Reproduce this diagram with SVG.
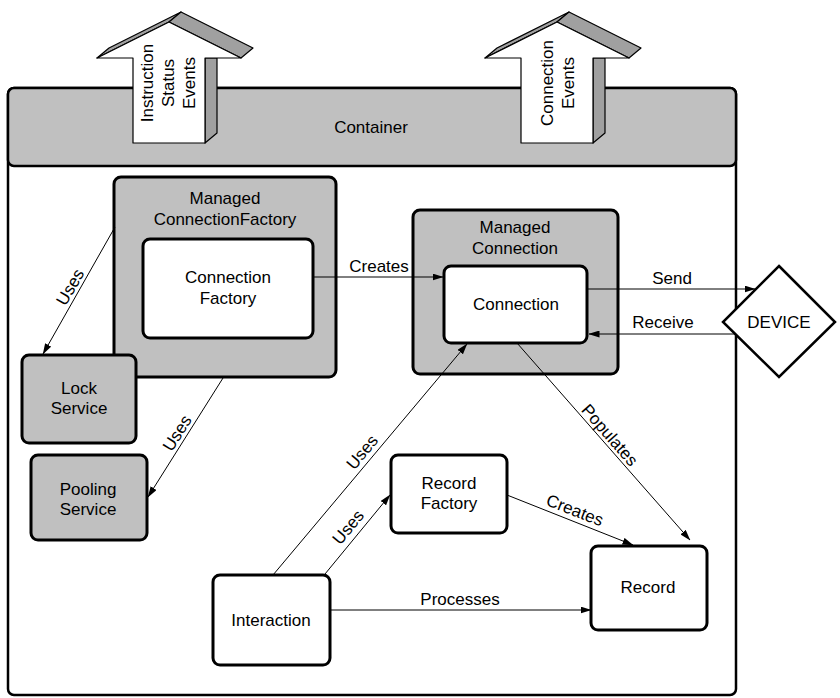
<svg xmlns="http://www.w3.org/2000/svg" width="840" height="698" viewBox="0 0 840 698">
  <style>
    text { font-family: "Liberation Sans", Arial, sans-serif; font-size: 17px; fill: #000; }
    .c { text-anchor: middle; }
    .box { stroke: #000; stroke-width: 3; }
    .gray { fill: #c0c0c0; }
    .white { fill: #fff; }
    .edge { fill: none; stroke: #000; stroke-width: 1; }
    .face { fill: #fff; stroke: #000; stroke-width: 1.2; stroke-linejoin: round; }
    .side { fill: #a0a0a0; stroke: #000; stroke-width: 1.2; stroke-linejoin: round; }
  </style>
  <defs>
    <marker id="arrow" markerWidth="11" markerHeight="7" refX="10.5" refY="3.5" orient="auto" markerUnits="userSpaceOnUse">
      <path d="M0,0 L11,3.5 L0,7 Z" fill="#000"/>
    </marker>
    <g id="bigArrow">
      <polygon class="side" points="97,58 109,48 181,12 169,22"/>
      <polygon class="side" points="169,22 181,12 253,48 241,58"/>
      <polygon class="side" points="205,58 217,58 217,133 205,143"/>
      <polygon class="face" points="169,22 241,58 205,58 205,143 133,143 133,58 97,58"/>
    </g>
  </defs>

  <!-- container frame and header -->
  <g id="container">
    <rect x="8" y="88" width="728" height="607" rx="6" fill="#fff" stroke="#000" stroke-width="2.5"/>
    <rect x="8" y="88" width="728" height="78" rx="6" class="gray" stroke="#000" stroke-width="2.5"/>
    <text class="c" x="371" y="133">Container</text>
  </g>

  <!-- event arrows leaving the container -->
  <g id="instruction-status-events">
    <use href="#bigArrow"/>
    <text class="c" transform="translate(153,83) rotate(-90)">Instruction</text>
    <text class="c" transform="translate(174,83) rotate(-90)">Status</text>
    <text class="c" transform="translate(195,83) rotate(-90)">Events</text>
  </g>
  <g id="connection-events">
    <use href="#bigArrow" transform="translate(388,0)"/>
    <text class="c" transform="translate(553,83) rotate(-90)">Connection</text>
    <text class="c" transform="translate(574,83) rotate(-90)">Events</text>
  </g>

  <g id="managed-connection-factory">
    <rect class="box gray" x="114" y="177" width="222" height="200" rx="7"/>
    <text class="c" x="225" y="204">Managed</text>
    <text class="c" x="225" y="225">ConnectionFactory</text>
  </g>
  <g id="connection-factory">
    <rect class="box white" x="143" y="239" width="170" height="99" rx="7"/>
    <text class="c" x="228" y="283">Connection</text>
    <text class="c" x="228" y="304">Factory</text>
  </g>

  <g id="managed-connection">
    <rect class="box gray" x="413" y="210" width="205" height="164" rx="7"/>
    <text class="c" x="515" y="233">Managed</text>
    <text class="c" x="515" y="254">Connection</text>
  </g>
  <g id="connection">
    <rect class="box white" x="444" y="266" width="143" height="77" rx="7"/>
    <text class="c" x="516" y="310">Connection</text>
  </g>

  <g id="device">
    <polygon points="779,266 835,322 779,377 723,322" fill="#fff" stroke="#000" stroke-width="2.5"/>
    <text class="c" x="779" y="328">DEVICE</text>
  </g>

  <g id="lock-service">
    <rect class="box gray" x="22" y="355" width="114" height="88" rx="7"/>
    <text class="c" x="79" y="394">Lock</text>
    <text class="c" x="79" y="414">Service</text>
  </g>
  <g id="pooling-service">
    <rect class="box gray" x="31" y="455" width="116" height="85" rx="7"/>
    <text class="c" x="88" y="495">Pooling</text>
    <text class="c" x="88" y="515">Service</text>
  </g>

  <g id="record-factory">
    <rect class="box white" x="391" y="455" width="116" height="78" rx="7"/>
    <text class="c" x="449" y="489">Record</text>
    <text class="c" x="449" y="509">Factory</text>
  </g>
  <g id="interaction">
    <rect class="box white" x="213" y="575" width="117" height="90" rx="7"/>
    <text class="c" x="271" y="626">Interaction</text>
  </g>
  <g id="record">
    <rect class="box white" x="591" y="546" width="116" height="84" rx="7"/>
    <text class="c" x="648" y="593">Record</text>
  </g>

  <!-- connectors -->
  <g id="connectors">
    <line class="edge" x1="313" y1="277" x2="443" y2="277" marker-end="url(#arrow)"/>
    <text class="c" x="379" y="272">Creates</text>

    <line class="edge" x1="588" y1="289" x2="755" y2="289" marker-end="url(#arrow)"/>
    <text class="c" x="672" y="284">Send</text>

    <line class="edge" x1="735" y1="334" x2="589" y2="334" marker-end="url(#arrow)"/>
    <text class="c" x="663" y="328">Receive</text>

    <line class="edge" x1="115" y1="227" x2="43" y2="354" marker-end="url(#arrow)"/>
    <text class="c" transform="translate(70,287) rotate(-60.3)" y="6">Uses</text>

    <line class="edge" x1="223" y1="378" x2="148" y2="497" marker-end="url(#arrow)"/>
    <text class="c" transform="translate(177,433) rotate(-57.8)" y="6">Uses</text>

    <line class="edge" x1="273" y1="575" x2="467" y2="344" marker-end="url(#arrow)"/>
    <text class="c" transform="translate(362,452) rotate(-50)" y="6">Uses</text>

    <line class="edge" x1="325" y1="574" x2="390" y2="495" marker-end="url(#arrow)"/>
    <text class="c" transform="translate(348,527) rotate(-50.6)" y="6">Uses</text>

    <line class="edge" x1="517" y1="343" x2="690" y2="540" marker-end="url(#arrow)"/>
    <text class="c" transform="translate(610,435) rotate(48.7)" y="6">Populates</text>

    <line class="edge" x1="507" y1="495" x2="633" y2="545" marker-end="url(#arrow)"/>
    <text class="c" transform="translate(575,510) rotate(21.3)" y="6">Creates</text>

    <line class="edge" x1="330" y1="610" x2="591" y2="610" marker-end="url(#arrow)"/>
    <text class="c" x="460" y="605">Processes</text>
  </g>
</svg>
